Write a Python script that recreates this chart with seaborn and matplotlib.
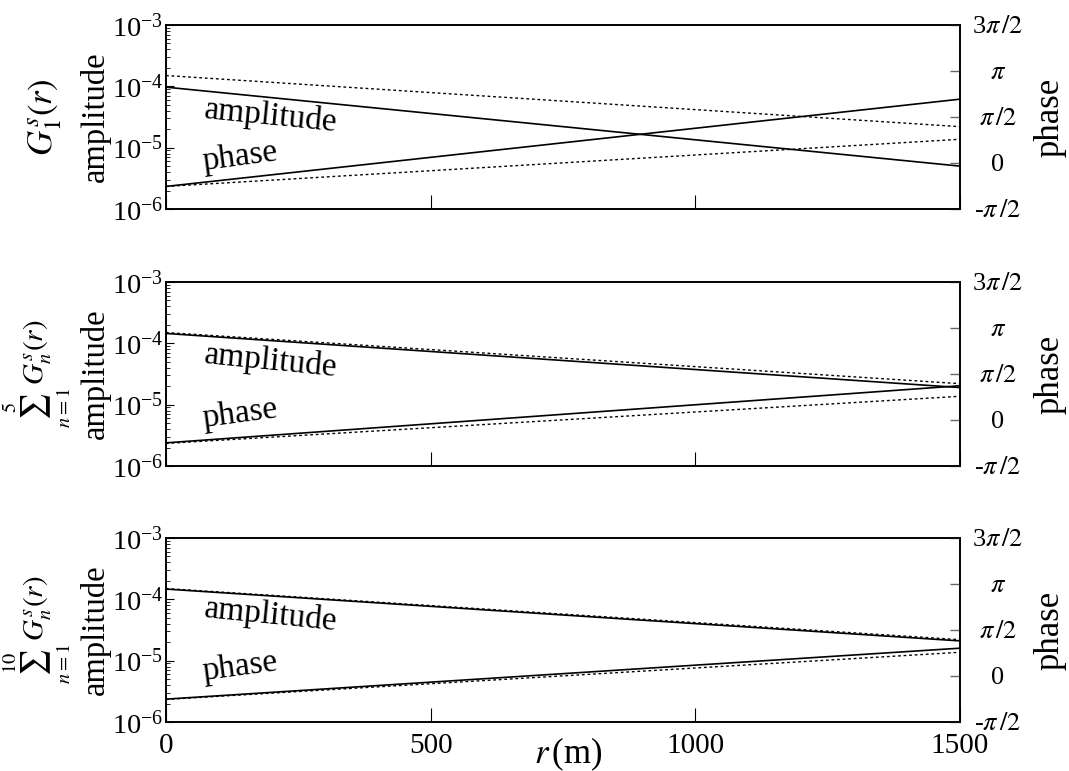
import numpy as np
import matplotlib
matplotlib.use("Agg")
import matplotlib.pyplot as plt
import seaborn as sns

# ---------------- data ----------------
r = [0, 1500]                       # distance (m)
amp_ref = [1.50e-4, 2.20e-5]        # dotted reference amplitude
phase_ref = [-0.80, 0.81]           # dotted reference phase (rad)

amp_n1 = [9.7e-5, 5.0e-6]
phase_n1 = [-0.80, 2.18]
amp_n5 = [1.45e-4, 1.9e-5]
phase_n5 = [-0.78, 1.17]
amp_n10 = [1.47e-4, 2.1e-5]
phase_n10 = [-0.79, 0.95]

panel_labels = [r'$G^{s}_{\mathrm{1}}(r)$',
                r'$\sum_{n=1}^{5}\,G^{s}_{n}(r)$',
                r'$\sum_{n=1}^{10}\,G^{s}_{n}(r)$']
x_ticks = [0, 500, 1000, 1500]
phase_ticks = [-np.pi / 2, 0, np.pi / 2, np.pi, 3 * np.pi / 2]
phase_tick_labels = [r'-$\pi\,/2$', r'0', r'$\pi\,/2$', r'$\pi$', r'3$\pi\,/2$']

# ---------------- style ----------------
sns.set_theme(style="white")
plt.rcParams['font.family'] = ['Liberation Serif', 'DejaVu Serif']
plt.rcParams['mathtext.fontset'] = 'stix'
plt.rcParams['axes.unicode_minus'] = False
plt.rcParams['text.color'] = 'black'
plt.rcParams['axes.labelcolor'] = 'black'
plt.rcParams['xtick.color'] = 'black'
plt.rcParams['ytick.color'] = 'black'

fig = plt.figure(figsize=(10.69, 7.71), dpi=100)
W, H = 1069, 771
left_px, right_px = 166, 960
tops = [25, 282, 538]
ph = 184

amps = [amp_n1, amp_n5, amp_n10]
phases = [phase_n1, phase_n5, phase_n10]
amp_text_y = [0.495, 0.56, 0.57]
phase_text_y = [0.212, 0.21, 0.23]
label_x_px = [45, 37, 37]
label_size = [25, 21, 21]

for i in range(3):
    top = tops[i]
    ax = fig.add_axes([left_px / W, 1 - (top + ph) / H,
                       (right_px - left_px) / W, ph / H])
    tw = ax.twinx()

    # amplitude (log, left)
    sns.lineplot(x=r, y=amp_ref, ax=ax, color='black', lw=1.0,
                 linestyle=(0, (2, 2)))
    sns.lineplot(x=r, y=amps[i], ax=ax, color='black', lw=1.2)
    ax.set_yscale('log')
    ax.set_ylim(1e-6, 1e-3)
    ax.set_xlim(0, 1500)
    ax.set_xticks(x_ticks)

    # phase (linear, right)
    sns.lineplot(x=r, y=phase_ref, ax=tw, color='black', lw=1.0,
                 linestyle=(0, (2, 2)))
    sns.lineplot(x=r, y=phases[i], ax=tw, color='black', lw=1.2)
    tw.set_ylim(-np.pi / 2, 3 * np.pi / 2)
    tw.set_yticks(phase_ticks)
    tw.set_yticklabels(phase_tick_labels)
    tw.set_xlim(0, 1500)

    for a in (ax, tw):
        a.set_xlabel('')
        a.set_ylabel('')
        for s in a.spines.values():
            s.set_color('black')
            s.set_linewidth(1.2)

    ax.tick_params(axis='y', which='major', direction='in', length=6,
                   width=0.8, labelsize=20.5, pad=2, left=True)
    ax.tick_params(axis='y', which='minor', direction='in', length=3,
                   width=0.6, left=True)
    ax.tick_params(axis='x', which='major', direction='in', length=10,
                   width=0.8, labelsize=21, pad=8, bottom=True, top=False)
    if i < 2:
        ax.tick_params(axis='x', labelbottom=False)
    tw.tick_params(axis='y', direction='in', length=7, width=1.0,
                   color='#666666', labelcolor='black', labelsize=19,
                   pad=38 * 0.72, right=True)
    for lab in tw.get_yticklabels():
        lab.set_horizontalalignment('center')

    # labels
    ax.text((label_x_px[i] - left_px) / (right_px - left_px), 0.5,
            panel_labels[i], transform=ax.transAxes,
            rotation=90, ha='center', va='center', fontsize=label_size[i])
    ax.text((95 - left_px) / (right_px - left_px), 0.5, 'amplitude',
            transform=ax.transAxes,
            rotation=90, ha='center', va='center', fontsize=23.5)
    tw.text(1.113, 0.5, 'phase', transform=ax.transAxes,
            rotation=90, ha='center', va='center', fontsize=25)

    ax.text(0.047, amp_text_y[i], 'amplitude', transform=ax.transAxes,
            rotation=-5.7, rotation_mode='anchor', ha='left', va='baseline',
            fontsize=24)
    ax.text(0.047, phase_text_y[i], 'phase', transform=ax.transAxes,
            rotation=7.5, rotation_mode='anchor', ha='left', va='baseline',
            fontsize=24)

fig.text(568 / W, 1 - 754 / H, r'$r\,$(m)', ha='center', va='center',
         fontsize=25)

fig.savefig('out.png', dpi=100)
